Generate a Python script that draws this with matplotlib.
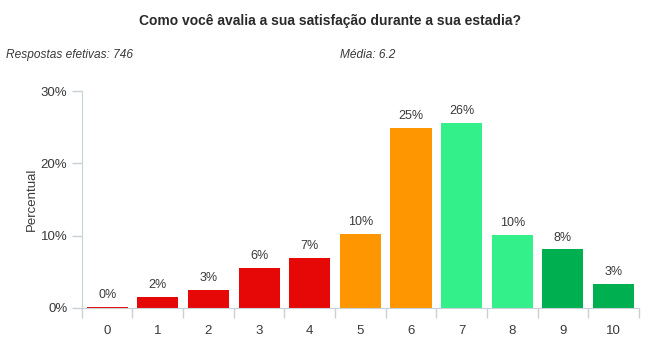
import matplotlib
matplotlib.use('Agg')
import matplotlib.pyplot as plt

plt.rcParams['font.family'] = ['Liberation Sans', 'DejaVu Sans']

notas = ['0', '1', '2', '3', '4', '5', '6', '7', '8', '9', '10']
percentual = [0.2, 1.5, 2.55, 5.5, 6.9, 10.2, 24.9, 25.6, 10.1, 8.1, 3.3]
cores = ['#e60707', '#e60707', '#e60707', '#e60707', '#e60707',
         '#fd9600', '#fd9600', '#33f08b', '#33f08b', '#00b050', '#00b050']
y_ticks = [0, 10, 20, 30]

eixo = '#c8d0d8'
texto = '#3a3a3a'

fig = plt.figure(figsize=(6.6, 3.5), dpi=100)
ax = fig.add_axes([0.124, 0.12, 0.844, 0.62])

x = range(len(notas))
ax.bar(x, percentual, width=0.81, color=cores)

for i, v in enumerate(percentual):
    ax.text(i, v + 0.8, f'{int(v + 0.5)}%', ha='center', va='bottom',
            fontsize=9, color=texto)

ax.set_xlim(-0.5, len(notas) - 0.5)
ax.set_ylim(0, 30)
ax.set_yticks(y_ticks)
ax.set_yticklabels([f'{t}%' for t in y_ticks])
ax.set_xticks(list(x))
ax.set_xticklabels(notas)
ax.set_xticks([i + 0.5 for i in range(-1, len(notas))], minor=True)

for lado in ['top', 'right']:
    ax.spines[lado].set_visible(False)
ax.spines['left'].set_color(eixo)
ax.spines['bottom'].set_color(eixo)
ax.tick_params(axis='y', colors=eixo, labelcolor=texto, labelsize=9.5,
               length=7.5, width=1, pad=3)
ax.tick_params(axis='x', which='major', length=0, pad=12, labelcolor=texto, labelsize=9.5)
ax.tick_params(axis='x', which='minor', colors=eixo, length=7.5, width=1)

ax.set_ylabel('Percentual', fontsize=9.5, color=texto, labelpad=2)

fig.text(0.5, 0.94, 'Como você avalia a sua satisfação durante a sua estadia?',
         ha='center', va='center', fontsize=10, fontweight='bold', color='#2a2a2a')
fig.text(0.009, 0.842, 'Respostas efetivas: 746', ha='left', va='center',
         fontsize=8.6, style='italic', color=texto)
fig.text(0.515, 0.842, 'Média: 6.2', ha='left', va='center',
         fontsize=8.6, style='italic', color=texto)

fig.savefig('out.png', dpi=100, facecolor='white')
